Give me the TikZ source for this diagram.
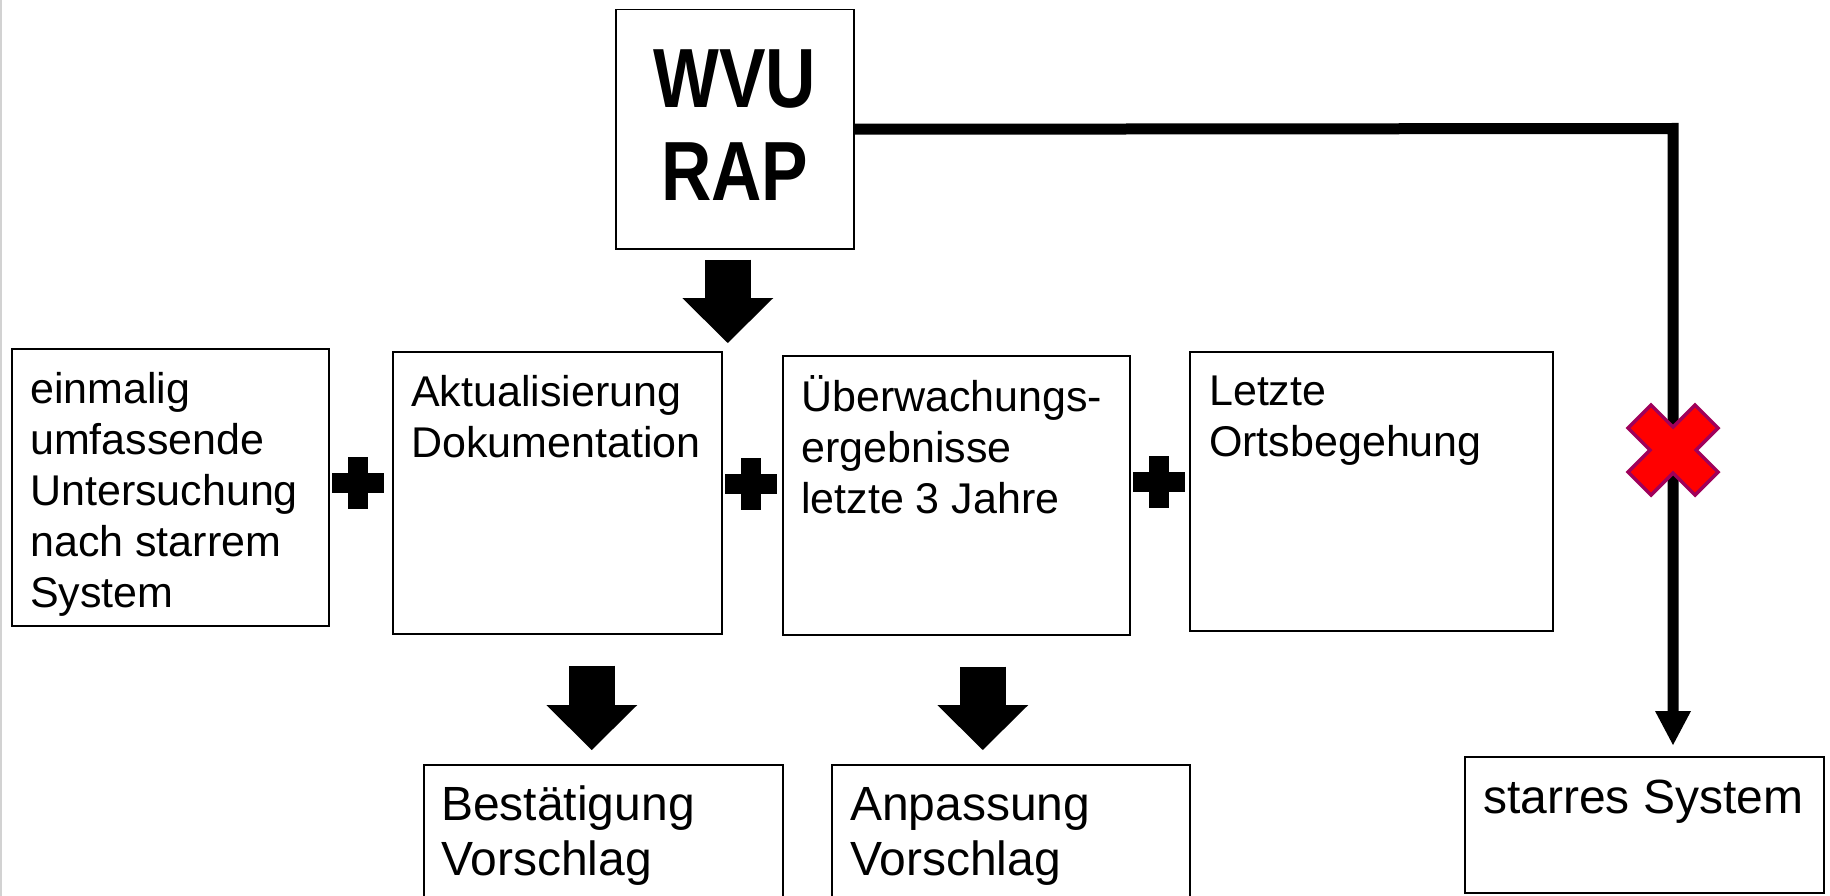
\documentclass[tikz,border=0pt]{standalone}
\usepackage{fontspec}
\setmainfont{Liberation Sans}
\newfontfamily\wvufont[FakeStretch=0.83]{Liberation Sans}
\usetikzlibrary{arrows.meta,calc}
% fixes the height of a first text line, so that its baseline sits at a known depth
\newcommand\capstrut[1]{\rule{0pt}{#1}}

\tikzset{
  box/.style={draw, line width=1.5pt, rectangle, inner sep=0pt, anchor=north west},
  txt/.style={font=\fontsize{43}{51}\selectfont, align=left, inner sep=0pt, anchor=north west},
  bigtxt/.style={font=\fontsize{48}{55}\selectfont, align=left, inner sep=0pt, anchor=north west},
  blockarrow/.style={line width=46pt, -{Triangle[width=91pt,length=45pt,line width=0pt]}},
  route/.style={line width=11pt, line join=miter, -{Triangle[width=36pt,length=34pt,line width=0pt]}},
  plussign/.pic={
    \fill (-26,-10) rectangle (26,10);
    \fill (-10,-26) rectangle (10,26);
  },
  crossout/.pic={
    \filldraw[fill=red, draw={rgb,255:red,160;green,0;blue,90}, line width=3.5pt, line join=miter]
      (-45,-22) -- (-22,-45) -- (0,-23) -- (22,-45) -- (45,-22) -- (23,0)
      -- (45,22) -- (22,45) -- (0,23) -- (-22,45) -- (-45,22) -- (-23,0) -- cycle;
  }
}

\begin{document}
\begin{tikzpicture}[x=1pt, y=-1pt]
  \useasboundingbox (0,0) rectangle (1830,896);
  \clip (0,0) rectangle (1830,896);
  \fill[white] (0,0) rectangle (1830,896);
  \draw[gray!35, line width=1.5pt] (1,0) -- (1,896);

  % top box
  \node[box, minimum width=238pt, minimum height=239pt] (wvu) at (615,9) {};
  \node[font=\wvufont\bfseries\fontsize{84}{93}\selectfont, align=center, inner sep=0pt]
    (wvutxt) at ($(wvu.center)+(0,-4)$) {WVU\\RAP};

  % middle row
  \node[box, minimum width=317pt, minimum height=277pt] (b1) at (11,348) {};
  \node[box, minimum width=329pt, minimum height=282pt] (b2) at (392,351) {};
  \node[box, minimum width=347pt, minimum height=279pt] (b3) at (782,355) {};
  \node[box, minimum width=363pt, minimum height=279pt] (b4) at (1189,351) {};

  \node[txt] (t1) at ($(b1.north west)+(19,13)$)
    {\capstrut{42pt}einmalig\\umfassende\\Untersuchung\\nach starrem\\System};
  \node[txt] (t2) at ($(b2.north west)+(19,13)$)
    {\capstrut{42pt}Aktualisierung\\Dokumentation};
  \node[txt] (t3) at ($(b3.north west)+(19,14)$)
    {\capstrut{42pt}Überwachungs-\\ergebnisse\\letzte 3 Jahre};
  \node[txt] (t4) at ($(b4.north west)+(20,12)$)
    {\capstrut{42pt}Letzte\\Ortsbegehung};

  % bottom row
  \node[box, minimum width=359pt, minimum height=170pt] (r1) at (423,764) {};
  \node[box, minimum width=358pt, minimum height=170pt] (r2) at (831,764) {};
  \node[box, minimum width=359pt, minimum height=136pt] (r3) at (1464,756) {};

  \node[bigtxt] (u1) at ($(r1.north west)+(18,10)$) {\capstrut{46pt}Bestätigung\\Vorschlag};
  \node[bigtxt] (u2) at ($(r2.north west)+(19,10)$) {\capstrut{46pt}Anpassung\\Vorschlag};
  \node[bigtxt] (u3) at ($(r3.north west)+(19,11)$) {\capstrut{46pt}starres System};

  % plus signs between the middle boxes
  \pic at (358,483) {plussign};
  \pic at (751,484) {plussign};
  \pic at (1159,482) {plussign};

  % block arrows
  \draw[blockarrow] ($(wvu.south)+(-7,10)$) -- ($(wvu.south |- b2.north)+(-7,-8)$);
  \draw[blockarrow] ($(r1.north |- b2.south)+(-11.5,31)$) -- ($(r1.north)+(-11.5,-14)$);
  \draw[blockarrow] ($(r2.north |- b3.south)+(-28,31)$) -- ($(r2.north)+(-28,-14)$);

  % rejected route to the rigid system
  \coordinate (turn) at (1673,128.5);
  \draw[route] (wvu.east) -- (turn) -- ($(turn |- r3.north)+(0,-11)$);
  \pic at (1673,450) {crossout};
\end{tikzpicture}
\end{document}
